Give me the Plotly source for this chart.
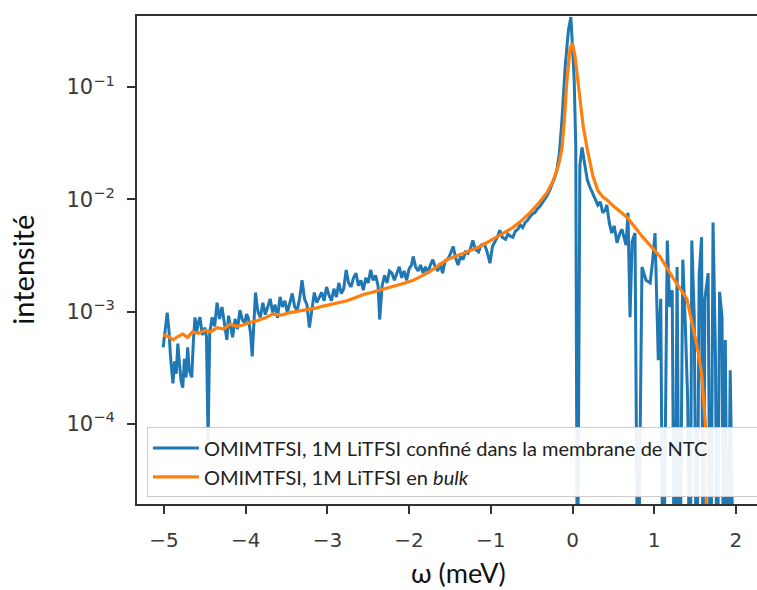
import plotly.graph_objects as go

FLOOR = 1e-6  # non-positive values (clipped to the bottom of the log axis)

# Blue: confined sample
omega_conf = [-5.01, -4.98, -4.96, -4.94, -4.92, -4.89, -4.87, -4.85, -4.83, -4.81, -4.79, -4.77,
              -4.75, -4.73, -4.71, -4.69, -4.66, -4.64, -4.62, -4.60, -4.58, -4.56, -4.53, -4.50,
              -4.48, -4.46, -4.44, -4.41, -4.38, -4.35, -4.32, -4.29, -4.26, -4.23, -4.21, -4.19,
              -4.16, -4.13, -4.10, -4.07, -4.04, -4.01, -3.99, -3.97, -3.94, -3.92, -3.90, -3.88,
              -3.85, -3.82, -3.79, -3.76, -3.73, -3.70, -3.67, -3.64, -3.61, -3.58, -3.55, -3.52,
              -3.49, -3.46, -3.43, -3.40, -3.37, -3.34, -3.31, -3.28, -3.25, -3.22, -3.19, -3.16,
              -3.13, -3.10, -3.07, -3.04, -3.01, -2.98, -2.95, -2.92, -2.89, -2.86, -2.83, -2.80,
              -2.77, -2.74, -2.71, -2.68, -2.65, -2.62, -2.59, -2.56, -2.53, -2.50, -2.47, -2.44,
              -2.41, -2.38, -2.36, -2.33, -2.30, -2.27, -2.24, -2.21, -2.18, -2.15, -2.12, -2.09,
              -2.06, -2.03, -2.00, -1.97, -1.95, -1.92, -1.89, -1.86, -1.83, -1.80, -1.77, -1.74,
              -1.71, -1.68, -1.65, -1.62, -1.59, -1.56, -1.53, -1.50, -1.46, -1.43, -1.40, -1.37,
              -1.34, -1.31, -1.28, -1.25, -1.22, -1.19, -1.15, -1.12, -1.08, -1.05, -1.01, -0.98,
              -0.95, -0.92, -0.89, -0.86, -0.82, -0.79, -0.76, -0.73, -0.70, -0.67, -0.64, -0.61,
              -0.58, -0.55, -0.52, -0.49, -0.46, -0.43, -0.40, -0.37, -0.34, -0.31, -0.28, -0.25,
              -0.22, -0.19, -0.16, -0.13, -0.09, -0.05, -0.02, 0.02, 0.04, 0.06, 0.09, 0.116,
              0.15, 0.18, 0.21, 0.24, 0.26, 0.29, 0.31, 0.34, 0.37, 0.40, 0.42, 0.45,
              0.48, 0.51, 0.545, 0.58, 0.606, 0.63, 0.655, 0.679, 0.704, 0.73, 0.765, 0.80,
              0.85, 0.90, 0.95, 0.98, 1.01, 1.05, 1.08, 1.11, 1.16, 1.19, 1.22, 1.25,
              1.28, 1.31, 1.35, 1.38, 1.41, 1.44, 1.46, 1.49, 1.52, 1.55, 1.58, 1.60,
              1.62, 1.66, 1.69, 1.72, 1.75, 1.77, 1.80, 1.83, 1.85, 1.87, 1.90, 1.93,
              1.96, 1.98]
int_conf = [4.8e-4, 7.5e-4, 9.8e-4, 7.0e-4, 4.0e-4, 2.3e-4, 3.6e-4, 2.8e-4, 5.2e-4, 3.4e-4, 2.4e-4, 2.1e-4,
            3.8e-4, 2.6e-4, 4.8e-4, 3.0e-4, 2.6e-4, 5.5e-4, 8.9e-4, 6.5e-4, 8.0e-4, 8.9e-4, 6.2e-4, 7.2e-4,
            6.0e-4, 7e-5, 6.5e-4, 8.9e-4, 7.4e-4, 1.2e-3, 8.6e-4, 1.1e-3, 7.8e-4, 5.6e-4, 9.2e-4, 7.9e-4,
            5.9e-4, 8.6e-4, 7.0e-4, 1.03e-3, 8.4e-4, 7.9e-4, 9.5e-4, 8.9e-4, 6.4e-4, 4.0e-4, 9.0e-4, 1.48e-3,
            1.0e-3, 8.9e-4, 1.2e-3, 9.4e-4, 1.1e-3, 1.3e-3, 9.8e-4, 1.15e-3, 8.8e-4, 1.35e-3, 1.1e-3, 1.25e-3,
            9.8e-4, 1.2e-3, 1.45e-3, 1.1e-3, 1.03e-3, 1.3e-3, 1.9e-3, 1.3e-3, 1.15e-3, 7.2e-4, 1.1e-3, 1.48e-3,
            1.2e-3, 1.35e-3, 1.48e-3, 1.25e-3, 1.66e-3, 1.4e-3, 1.25e-3, 1.6e-3, 1.35e-3, 1.8e-3, 1.45e-3, 1.6e-3,
            2.35e-3, 1.8e-3, 1.66e-3, 2.0e-3, 2.2e-3, 1.7e-3, 1.9e-3, 1.55e-3, 2.0e-3, 1.8e-3, 2.35e-3, 1.9e-3,
            2.1e-3, 1.7e-3, 8.5e-4, 1.7e-3, 2.1e-3, 1.8e-3, 2.3e-3, 2.2e-3, 1.9e-3, 2.2e-3, 2.5e-3, 2.0e-3,
            2.3e-3, 1.9e-3, 2.4e-3, 2.6e-3, 3.1e-3, 2.5e-3, 2.3e-3, 2.6e-3, 2.2e-3, 2.5e-3, 2.2e-3, 2.6e-3,
            2.9e-3, 2.5e-3, 2.3e-3, 2.7e-3, 2.2e-3, 2.8e-3, 2.9e-3, 3.2e-3, 3.8e-3, 3.0e-3, 2.6e-3, 3.1e-3,
            2.9e-3, 3.4e-3, 3.3e-3, 3.6e-3, 4.3e-3, 3.6e-3, 3.4e-3, 3.9e-3, 4.0e-3, 3.5e-3, 2.7e-3, 3.8e-3,
            4.2e-3, 4.6e-3, 5.3e-3, 4.6e-3, 4.4e-3, 4.9e-3, 4.7e-3, 4.6e-3, 5.2e-3, 5.4e-3, 5.9e-3, 5.6e-3,
            6.2e-3, 6.5e-3, 7.0e-3, 7.4e-3, 7.6e-3, 8.2e-3, 8.6e-3, 9.2e-3, 1.0e-2, 1.08e-2, 1.2e-2, 1.35e-2,
            1.55e-2, 1.85e-2, 2.6e-2, 5.0e-2, 1.5e-1, 3.2e-1, 4.2e-1, 1.2e-1, 3.0e-2, FLOOR, 2.0e-2, 2.9e-2,
            2.0e-2, 1.5e-2, 1.3e-2, 1.15e-2, 1.1e-2, 9.5e-3, 8.9e-3, 9.5e-3, 7.6e-3, 8.0e-3, 8.9e-3, 6.2e-3,
            5.0e-3, 5.8e-3, 4.1e-3, 5.0e-3, 5.4e-3, 4.6e-3, 3.9e-3, 7.6e-3, 8.9e-4, 4.2e-3, 5.0e-3, FLOOR,
            2.5e-3, 1.9e-3, 1.8e-3, 2.8e-3, 5.0e-3, 3.7e-4, 1.3e-3, FLOOR, 4.3e-3, 1.1e-3, 1.55e-3, FLOOR,
            2.5e-3, FLOOR, 2.9e-3, 8.0e-4, 1.6e-4, FLOOR, 4.3e-3, 9.0e-4, FLOOR, 2.1e-3, 4.6e-3, FLOOR,
            1.3e-3, 2.2e-3, FLOOR, 6.2e-3, 4.0e-4, FLOOR, 1.5e-3, 8.9e-4, FLOOR, 5.6e-4, FLOOR, 3.0e-4,
            FLOOR, FLOOR]

# Orange: bulk sample
omega_bulk = [-5.01, -4.95, -4.89, -4.83, -4.77, -4.71, -4.65, -4.58, -4.50, -4.43, -4.35, -4.27,
              -4.19, -4.11, -4.03, -3.95, -3.86, -3.76, -3.67, -3.56, -3.46, -3.38, -3.30, -3.21,
              -3.13, -3.05, -2.97, -2.86, -2.76, -2.66, -2.56, -2.46, -2.36, -2.25, -2.15, -2.05,
              -1.95, -1.86, -1.78, -1.66, -1.54, -1.34, -1.13, -0.93, -0.73, -0.62, -0.52, -0.41,
              -0.31, -0.24, -0.19, -0.16, -0.13, -0.10, -0.07, -0.03, 0.0, 0.03, 0.05, 0.09,
              0.13, 0.18, 0.25, 0.31, 0.37, 0.42, 0.50, 0.67, 0.86, 1.07, 1.23, 1.40,
              1.48, 1.54, 1.58, 1.61, 1.63, 1.65]
int_bulk = [6.2e-4, 6.0e-4, 5.6e-4, 6.0e-4, 6.3e-4, 5.9e-4, 6.6e-4, 6.4e-4, 6.8e-4, 6.6e-4, 7.2e-4, 7.0e-4,
            7.7e-4, 7.4e-4, 7.6e-4, 8.0e-4, 8.3e-4, 8.8e-4, 9.5e-4, 9.3e-4, 9.8e-4, 1.0e-3, 1.03e-3, 1.05e-3,
            1.08e-3, 1.12e-3, 1.15e-3, 1.2e-3, 1.25e-3, 1.33e-3, 1.42e-3, 1.48e-3, 1.55e-3, 1.62e-3, 1.72e-3, 1.8e-3,
            1.9e-3, 2.05e-3, 2.2e-3, 2.5e-3, 2.9e-3, 3.3e-3, 3.8e-3, 4.6e-3, 5.6e-3, 6.5e-3, 7.6e-3, 9.3e-3,
            1.15e-2, 1.45e-2, 1.8e-2, 2.2e-2, 2.8e-2, 5.0e-2, 1.1e-1, 2.2e-1, 2.45e-1, 1.9e-1, 1.4e-1, 7.6e-2,
            4.5e-2, 2.8e-2, 1.6e-2, 1.2e-2, 1.05e-2, 9.9e-3, 8.7e-3, 6.9e-3, 4.6e-3, 3.1e-3, 2.0e-3, 1.3e-3,
            7.2e-4, 4.3e-4, 2.8e-4, 1.6e-4, 9.3e-5, FLOOR]

y_tickvals = [1e-4, 1e-3, 1e-2, 1e-1]
y_ticktext = ["10<sup>−4</sup>", "10<sup>−3</sup>", "10<sup>−2</sup>", "10<sup>−1</sup>"]
x_tickvals = [-5, -4, -3, -2, -1, 0, 1, 2]
x_ticktext = ["−5", "−4", "−3", "−2", "−1", "0", "1", "2"]

pad = "&nbsp;" * 9
name_conf = "OMIMTFSI, 1M LiTFSI confiné dans la membrane de NTC" + pad
name_bulk = "OMIMTFSI, 1M LiTFSI en <i>bulk</i>"

fig = go.Figure()
fig.add_trace(go.Scatter(x=omega_conf, y=int_conf, mode="lines", name=name_conf,
                         line=dict(color="#1f77b4", width=3)))
fig.add_trace(go.Scatter(x=omega_bulk, y=int_bulk, mode="lines", name=name_bulk,
                         line=dict(color="#ff7f0e", width=3.2)))

axis_col = "#333333"
fig.update_layout(
    width=757, height=590,
    margin=dict(l=137, r=0, t=16, b=86, autoexpand=False),
    paper_bgcolor="white", plot_bgcolor="white",
    showlegend=True,
    legend=dict(x=0.016, y=0.157, xanchor="left", yanchor="top",
                bgcolor="rgba(255,255,255,0.92)", bordercolor="#cccccc", borderwidth=1,
                font=dict(family="Lato", size=20, color="#222222"),
                tracegroupgap=0, itemwidth=46),
    xaxis=dict(range=[-5.33, 2.258], showgrid=False, zeroline=False, automargin=False,
               showline=True, linecolor=axis_col, linewidth=2, mirror=True,
               ticks="outside", ticklen=8, tickwidth=2, tickcolor=axis_col,
               ticklabelstandoff=9,
               tickvals=x_tickvals, ticktext=x_ticktext,
               tickfont=dict(family="DejaVu Sans", size=20, color="#3a3a3a")),
    yaxis=dict(type="log", range=[-4.713, -0.368], showgrid=False, zeroline=False, automargin=False,
               showline=True, linecolor=axis_col, linewidth=2, mirror=False,
               ticks="outside", ticklen=8, tickwidth=2, tickcolor=axis_col,
               ticklabelstandoff=8,
               tickvals=y_tickvals, ticktext=y_ticktext,
               tickfont=dict(family="DejaVu Sans", size=21, color="#3a3a3a")),
    annotations=[
        dict(text="intensité", xref="paper", yref="paper", x=-0.184, y=0.48,
             xanchor="center", yanchor="middle", textangle=-90, showarrow=False,
             font=dict(family="Lato", size=29, color="#111111")),
        dict(text="ω (meV)", xref="paper", yref="paper", x=0.518, y=-0.141,
             xanchor="center", yanchor="middle", showarrow=False,
             font=dict(family="Lato", size=27, color="#111111")),
    ],
)

fig.write_html("out.html", config={"displayModeBar": False},
               post_script="document.body.style.margin='0';document.body.style.overflow='hidden';")
